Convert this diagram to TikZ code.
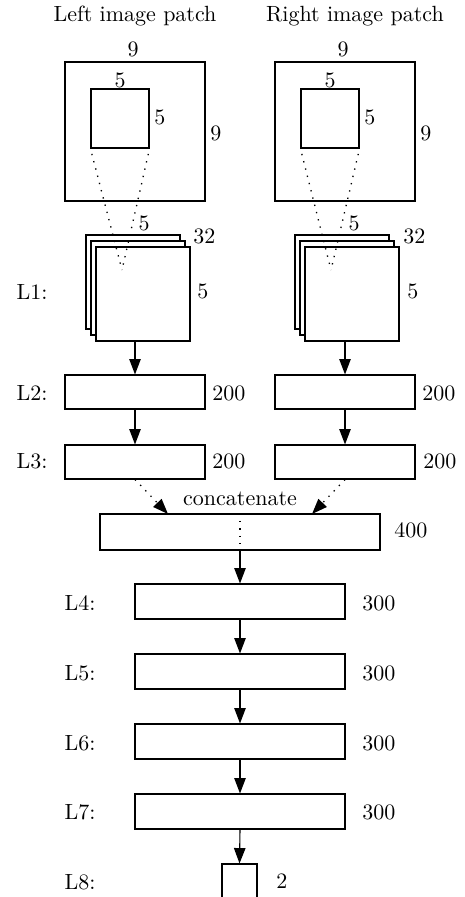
\documentclass[tikz,border=0pt]{standalone}
\usetikzlibrary{arrows.meta}
\newdimen\pxu \pxu=0.4545pt
\begin{document}
\begin{tikzpicture}[x=0.4545pt,y=-0.4545pt,
  box/.style={draw, line width=0.5pt, fill=white, inner sep=0pt},
  wh/.style 2 args={minimum width=#1\pxu, minimum height=#2\pxu},
  arr/.style={-{Triangle[length=7pt,width=5.2pt]}, line width=0.5pt},
  dots/.style={dash pattern=on 0.6pt off 2.8pt, line width=0.6pt},
  lab/.style={inner sep=0pt},
  num/.style={inner sep=0pt, anchor=west}]
\clip (0,0) rectangle (465,897);
% titles
\node[lab] (tl) at (135,16) {Left image patch};
\node[lab] (tr) at (355,16) {Right image patch};
% image patches
\node[box, wh={140}{139}] (lo) at (135,131.5) {};
\node[box, wh={58}{59}] (li) at (120,118.5) {};
\node[box, wh={140}{139}] (ro) at (345,131.5) {};
\node[box, wh={58}{59}] (ri) at (330,118.5) {};
\node[lab] (lo9a) at (133,49) {9};
\node[num] (lo9b) at (210,133) {9};
\node[lab] (li5a) at (120,80) {5};
\node[num] (li5b) at (154,117) {5};
\node[lab] (ro9a) at (343,49) {9};
\node[num] (ro9b) at (420,133) {9};
\node[lab] (ri5a) at (330,80) {5};
\node[num] (ri5b) at (364,117) {5};
% L1 stacks
\node[lab] (L1) at (32,292) {L1:};
\node[box, wh={94}{94}] (ls1) at (133,282) {};
\node[box, wh={94}{94}] (ls2) at (138,288) {};
\node[box, wh={94}{94}] (ls3) at (143,294) {};
\node[box, wh={94}{94}] (rs1) at (342,282) {};
\node[box, wh={94}{94}] (rs2) at (347,288) {};
\node[box, wh={94}{94}] (rs3) at (352,294) {};
\coordinate (lc) at (122,270);
\coordinate (rc) at (331,270);
\draw[dots, shorten <=2.5pt] (li.south west) -- (lc);
\draw[dots, shorten <=2.5pt] (li.south east) -- (lc);
\draw[dots, shorten <=2.5pt] (ri.south west) -- (rc);
\draw[dots, shorten <=2.5pt] (ri.south east) -- (rc);
\node[lab] (ls5a) at (144,223) {5};
\node[num] (ls32) at (193,236) {32};
\node[num] (ls5b) at (197,291) {5};
\node[lab] (rs5a) at (354,223) {5};
\node[num] (rs32) at (403,236) {32};
\node[num] (rs5b) at (407,291) {5};
% L2, L3
\node[lab] (L2) at (32,393) {L2:};
\node[lab] (L3) at (32,461) {L3:};
\node[box, wh={140}{34}] (l2) at (135,392) {};
\node[box, wh={140}{34}] (l3) at (135,462) {};
\node[box, wh={140}{34}] (r2) at (345,392) {};
\node[box, wh={140}{34}] (r3) at (345,462) {};
\node[num] (l2n) at (212,393) {200};
\node[num] (l3n) at (212,461) {200};
\node[num] (r2n) at (422,393) {200};
\node[num] (r3n) at (423,461) {200};
\draw[arr] (ls3.south -| l2.north) -- (l2.north);
\draw[arr] (rs3.south -| r2.north) -- (r2.north);
\draw[arr] (l2.south) -- (l3.north);
\draw[arr] (r2.south) -- (r3.north);
% concatenate
\node[box, wh={280}{36}] (cc) at (240,532) {};
\node[lab] (cct) at (240,499) {concatenate};
\node[num] (ccn) at (394,530) {400};
\coordinate (ca) at (168,514);
\coordinate (cb) at (312,514);
\draw[dots, -{Triangle[length=7pt,width=5.2pt]}] (l3.south) -- (ca);
\draw[dots, -{Triangle[length=7pt,width=5.2pt]}] (r3.south) -- (cb);
\coordinate (cm) at (240,544);
\draw[dots] (cc.north) -- (cm);
% L4 - L8
\node[box, wh={210}{35}] (l4) at (240,601.5) {};
\node[box, wh={210}{35}] (l5) at (240,671.5) {};
\node[box, wh={210}{35}] (l6) at (240,741.5) {};
\node[box, wh={210}{35}] (l7) at (240,811.5) {};
\node[box, wh={35}{60}] (l8) at (239.5,894) {};
\node[lab] (L4) at (80,603) {L4:};
\node[lab] (L5) at (80,673) {L5:};
\node[lab] (L6) at (80,743) {L6:};
\node[lab] (L7) at (80,812) {L7:};
\node[lab] (L8) at (80,882) {L8:};
\node[num] (l4n) at (362,603) {300};
\node[num] (l5n) at (362,673) {300};
\node[num] (l6n) at (362,743) {300};
\node[num] (l7n) at (362,812) {300};
\node[num] (l8n) at (276,881) {2};
\draw[arr] (cc.south) -- (l4.north);
\draw[arr] (l4.south) -- (l5.north);
\draw[arr] (l5.south) -- (l6.north);
\draw[arr] (l6.south) -- (l7.north);
\draw[arr] (l7.south) -- (l8.north);
\end{tikzpicture}
\end{document}
